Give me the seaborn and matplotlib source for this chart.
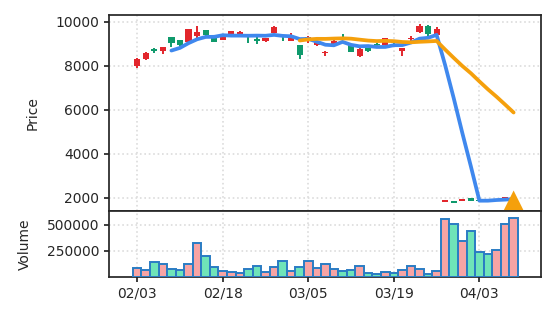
import numpy as np
import pandas as pd
import matplotlib
matplotlib.use("Agg")
import matplotlib.pyplot as plt
import seaborn as sns

# Daily OHLC and volume (45 sessions)
opens = [7970, 8320, 8760, 8653, 9290, 9153, 9077, 9350, 9608, 9305,
         9168, 9456, 9426, 9380, 9229, 9108, 9486, 9380, 9138, 8926,
         9153, 8926, 8560, 8926, 9300, 8926, 8426, 8805, 9000, 8956,
         9080, 8684, 9200, 9532, 9805, 9380, 1790, 1836, 1850, 1986,
         1900, 1930, 1890, 1955, 1930]
highs = [8330, 8610, 8820, 8870, 9300, 9160, 9660, 9805, 9615, 9310,
         9300, 9580, 9580, 9400, 9300, 9270, 9800, 9390, 9500, 8930,
         9350, 9120, 8650, 9150, 9441, 8940, 8790, 8815, 9047, 9270,
         9100, 8820, 9350, 9880, 9860, 9740, 1900, 1840, 1945, 1990,
         1905, 1940, 1930, 2040, 2010]
lows = [7900, 8275, 8560, 8547, 8865, 8805, 9060, 9229, 9300, 9060,
        9150, 9440, 9410, 9047, 8986, 9100, 9470, 9108, 9120, 8290,
        9047, 8910, 8441, 8900, 9200, 8610, 8410, 8623, 8910, 8940,
        9000, 8441, 9140, 9500, 9350, 9340, 1785, 1765, 1845, 1860,
        1840, 1890, 1880, 1950, 1880]
closes = [8320, 8577, 8653, 8850, 9047, 8926, 9653, 9532, 9380, 9077,
          9290, 9562, 9532, 9350, 9108, 9259, 9759, 9305, 9259, 8471,
          9305, 9108, 8620, 9138, 9250, 8623, 8774, 8684, 8926, 9259,
          9017, 8805, 9259, 9805, 9456, 9683, 1895, 1773, 1940, 1864,
          1848, 1900, 1920, 2030, 2000]
volumes = [89000, 70000, 140000, 127000, 79000, 70000, 127000, 328000, 204000, 98000,
           60000, 51000, 41000, 79000, 102000, 51000, 92000, 150000, 60000, 92000,
           156000, 89000, 127000, 79000, 60000, 70000, 102000, 35000, 26000, 45000,
           41000, 70000, 102000, 79000, 26000, 60000, 552000, 510000, 347000, 443000,
           242000, 217000, 261000, 510000, 561000]
tick_labels = ["02/03", "02/18", "03/05", "03/19", "04/03"]
tick_step = 10
signal_day = 44
signal_price = 1880

UP_COLOR = "#e2262c"
DOWN_COLOR = "#0f9a6c"
VOL_UP = "#f7a4a4"
VOL_DOWN = "#6fe4b8"
VOL_EDGE = "#2a7cc4"
MA5_COLOR = "#3f88ee"
MA20_COLOR = "#f5a00c"
GRID_COLOR = "#dcdcdc"

sns.set_theme(style="ticks", rc={
    "font.size": 10,
    "axes.labelsize": 10,
    "xtick.labelsize": 10,
    "ytick.labelsize": 10,
    "axes.linewidth": 1.25,
    "axes.edgecolor": "#262626",
    "xtick.major.size": 3.5,
    "ytick.major.size": 3.5,
    "xtick.major.width": 1.25,
    "ytick.major.width": 1.25,
})
plt.rcParams["font.family"] = ["DejaVu Sans"]

df = pd.DataFrame({"open": opens, "high": highs, "low": lows,
                   "close": closes, "volume": volumes})
df["day"] = np.arange(len(df))
df["ma5"] = df["close"].rolling(5).mean()
df["ma20"] = df["close"].rolling(20).mean()
df["dir"] = np.where(df["close"] >= df["open"], "up", "down")

fig = plt.figure(figsize=(5.56, 3.22), dpi=100)
ax = fig.add_axes([0.196, 0.3447, 0.777, 0.6087])
axv = fig.add_axes([0.196, 0.1398, 0.777, 0.2049], sharex=ax)

# Candlesticks
candle_colors = np.where(df["dir"] == "up", UP_COLOR, DOWN_COLOR)
body_bottom = np.minimum(df["open"], df["close"])
body_height = np.maximum(np.abs(df["close"] - df["open"]), 25)
ax.vlines(df["day"], df["low"], df["high"], colors=candle_colors,
          linewidth=1.4, zorder=2)
ax.bar(df["day"], body_height, bottom=body_bottom, width=0.72,
       color=candle_colors, linewidth=0, zorder=3)

# Moving averages and signal marker
sns.lineplot(data=df, x="day", y="ma5", color=MA5_COLOR, linewidth=2.7,
             ax=ax, zorder=4)
sns.lineplot(data=df, x="day", y="ma20", color=MA20_COLOR, linewidth=2.7,
             ax=ax, zorder=5)
sns.scatterplot(x=[signal_day], y=[signal_price], marker="^", s=200,
                color=MA20_COLOR, edgecolor="none", ax=ax, zorder=6)

# Volume bars
sns.barplot(data=df, x="day", y="volume", hue="dir",
            palette={"up": VOL_UP, "down": VOL_DOWN}, dodge=False,
            saturation=1, width=1.0, edgecolor=VOL_EDGE, linewidth=1.4,
            legend=False, ax=axv, zorder=3)

ax.set_ylim(1395, 10305)
ax.set_yticks([2000, 4000, 6000, 8000, 10000])
ax.set_ylabel("Price", labelpad=11)
ax.set_xlabel("")
ax.tick_params(axis="x", bottom=False, labelbottom=False)

axv.set_ylim(0, 630000)
axv.set_yticks([250000, 500000])
axv.set_ylabel("Volume", labelpad=11)
axv.set_xlabel("")
tick_pos = [i * tick_step for i in range(len(tick_labels))]
axv.set_xticks(tick_pos, tick_labels)
axv.set_xlim(-3.3, 47.2)

for a in (ax, axv):
    a.grid(True, linestyle=":", color=GRID_COLOR, linewidth=1.2)
    a.set_axisbelow(True)
    for s in a.spines.values():
        s.set_visible(True)

fig.savefig("out.png", dpi=100)
